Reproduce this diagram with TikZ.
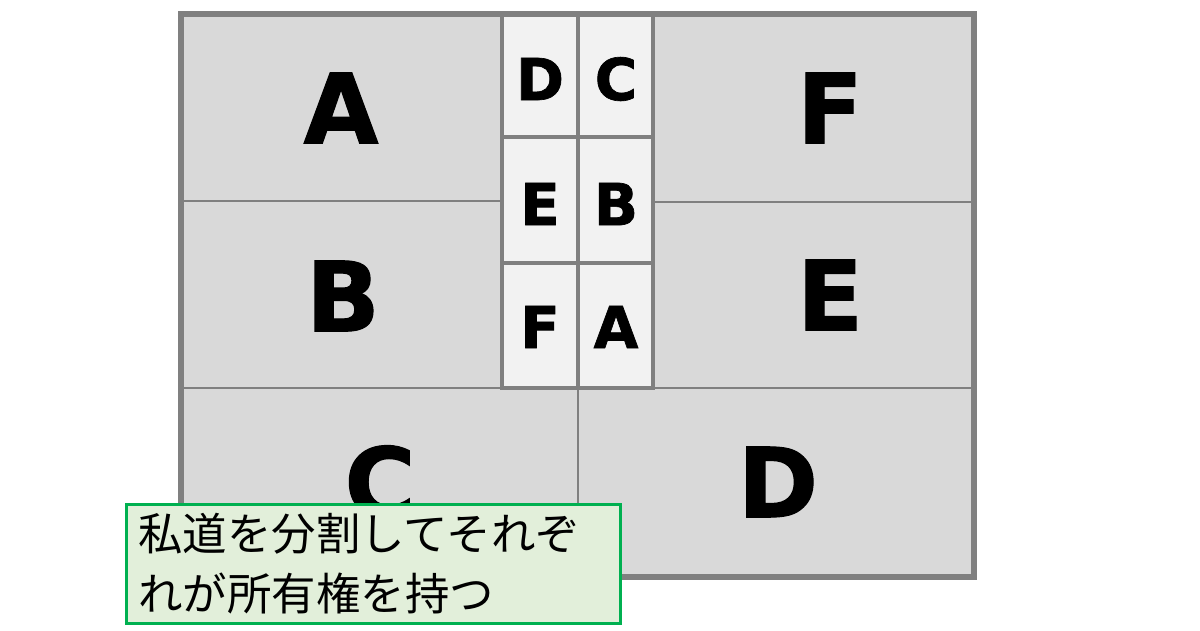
\documentclass[tikz,border=0pt]{standalone}
\usepackage{fontspec}
\setmainfont{DejaVu Sans}
\newfontfamily\heavyfont[FakeBold=1.2]{DejaVu Sans Bold}
\newfontfamily\jpfont{Noto Sans CJK JP}
\definecolor{lotgray}{HTML}{D9D9D9}
\definecolor{roadgray}{HTML}{F2F2F2}
\definecolor{edgegray}{HTML}{808080}
\definecolor{notegreen}{HTML}{00B050}
\definecolor{notefill}{HTML}{E2EFDA}
\tikzset{
  lot/.style={fill=lotgray,draw=edgegray,line width=1.3pt},
  strip/.style={fill=roadgray,draw=edgegray,line width=2pt},
  frame/.style={draw=edgegray,line width=3.4pt},
  biglabel/.style={font=\heavyfont\fontsize{55pt}{55pt}\selectfont,inner sep=0pt},
  smalllabel/.style={font=\heavyfont\fontsize{33pt}{33pt}\selectfont,inner sep=0pt},
  notebox/.style={draw=notegreen,fill=notefill,line width=1.7pt,
    font=\jpfont\fontsize{25.3pt}{34pt}\selectfont,align=left,
    anchor=north west,minimum width=98.8mm,minimum height=23.8mm,
    text width=94mm,inner xsep=2.2mm,inner ysep=0pt}
}

\begin{document}
\begin{tikzpicture}[x=0.02cm,y=-0.02cm]
    \useasboundingbox (0,0) rectangle (1200,630);
    % lots
    \draw[lot] (181,14) rectangle (502,201);
    \draw[lot] (181,201) rectangle (502,388);
    \draw[lot] (653,14) rectangle (974,202);
    \draw[lot] (653,202) rectangle (974,388);
    \draw[lot] (181,388) rectangle (578,577);
    \draw[lot] (578,388) rectangle (974,577);
    % private road, split into pieces
    \foreach \ytop/\ybot in {14/137,137/263,263/388} {
      \draw[strip] (502,\ytop) rectangle (578,\ybot);
      \draw[strip] (578,\ytop) rectangle (653,\ybot);
    }
    \draw[frame] (181,14) rectangle (974,577);
    \node[biglabel] (lotA) at (341,108) {A};
    \node[biglabel] (lotB) at (343,296) {B};
    \node[biglabel] (lotF) at (830,108) {F};
    \node[biglabel] (lotE) at (830,295) {E};
    \node[biglabel] (lotC) at (380,482) {C};
    \node[biglabel] (lotD) at (778,482) {D};
    \node[smalllabel] (roadD) at (540,79) {D};
    \node[smalllabel] (roadC) at (616,79) {C};
    \node[smalllabel] (roadE) at (540,204) {E};
    \node[smalllabel] (roadB) at (616,204) {B};
    \node[smalllabel] (roadF) at (540,327) {F};
    \node[smalllabel] (roadA) at (616,327) {A};
    \node[notebox] (note) at (125,503) {私道を分割してそれぞ\\れが所有権を持つ};
\end{tikzpicture}
\end{document}
